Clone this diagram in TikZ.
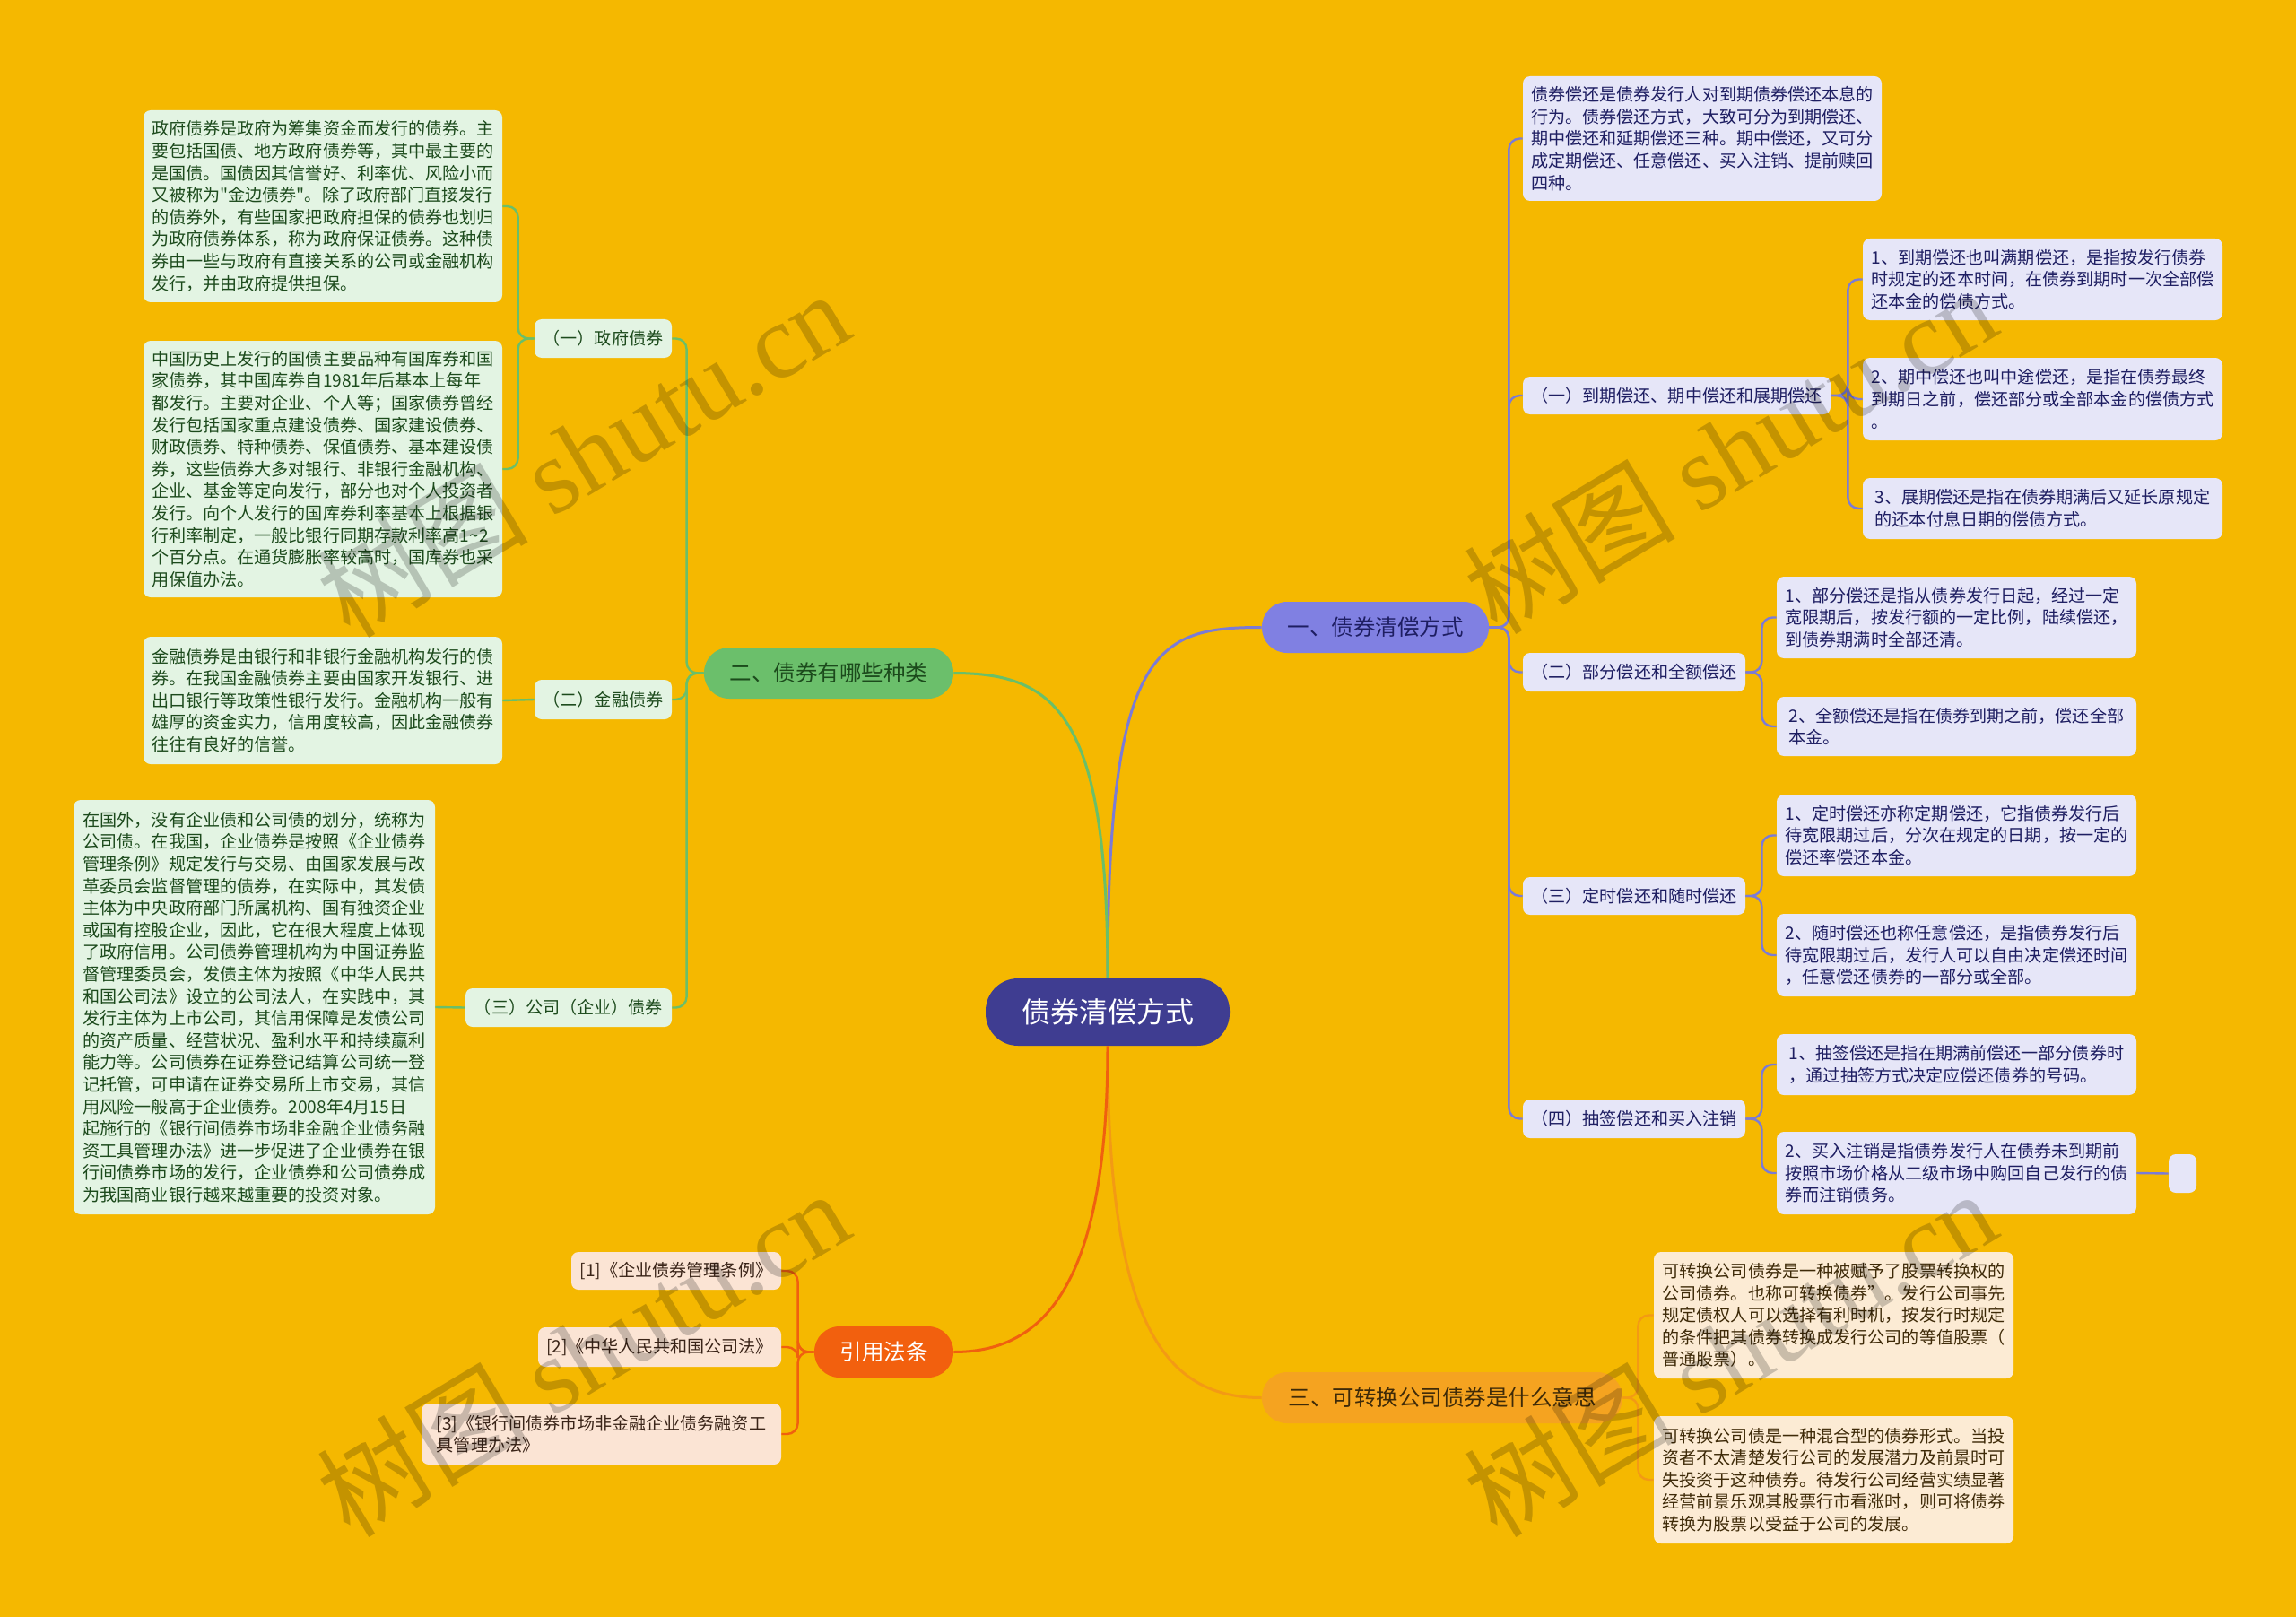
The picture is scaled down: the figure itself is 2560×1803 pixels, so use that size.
\documentclass[tikz,border=0pt]{standalone}
\usepackage{fontspec}
\setmainfont{Noto Sans CJK SC}
\newfontfamily\qfont{Noto Sans CJK SC}
\newfontfamily\wmlatin{Liberation Serif}
\definecolor{bg}{HTML}{F5B800}
\definecolor{cfill}{HTML}{3F3D91}
\definecolor{pfill}{HTML}{8080E2}
\definecolor{pline}{HTML}{7B7BD6}
\definecolor{plight}{HTML}{E6E6F8}
\definecolor{ptext}{HTML}{1E1E62}
\definecolor{gfill}{HTML}{6BBF6B}
\definecolor{gline}{HTML}{6ABF69}
\definecolor{glight}{HTML}{E3F4E3}
\definecolor{gtext}{HTML}{1C4A1C}
\definecolor{ofill}{HTML}{F5A320}
\definecolor{oline}{HTML}{F39A14}
\definecolor{olight}{HTML}{FCEBD4}
\definecolor{otext}{HTML}{3E2A08}
\definecolor{rfill}{HTML}{F2600E}
\definecolor{rline}{HTML}{F0600F}
\definecolor{rlight}{HTML}{FBE4D4}
\definecolor{rtext}{HTML}{3A2418}
\tikzset{
  txt/.style={draw=none, rounded corners=4pt, inner sep=0pt, align=left,
    font=\fontsize{9.55pt}{12.3pt}\selectfont},
  pbox/.style={txt, fill=plight, text=ptext},
  gbox/.style={txt, fill=glight, text=gtext},
  obox/.style={txt, fill=olight, text=otext},
  rbox/.style={txt, fill=rlight, text=rtext},
  lvl/.style={draw=none, inner sep=0pt, rounded corners=14pt, minimum height=28.5pt,
    font=\fontsize{12.25pt}{14pt}\selectfont},
  mainline/.style={line width=1.5pt},
  brk/.style={line width=1.2pt, rounded corners=6pt},
  wm/.style={text=black, opacity=0.2, rotate=31, font=\fontsize{59pt}{66pt}\selectfont}
}
\newcommand{\sq}{{\qfont "}}
\begin{document}
\begin{tikzpicture}[x=0.5pt,y=-0.5pt]
\fill[bg] (0,0) rectangle (2560,1803);
\useasboundingbox (0,0) rectangle (2560,1803);

% center and level 1
\node[draw=none, fill=cfill, text=white, rounded corners=18pt, minimum width=136pt, minimum height=37.5pt, inner sep=0pt, font=\fontsize{16pt}{18pt}\selectfont] (C) at (1235,1128.5) {债券清偿方式};
\node[lvl, fill=pfill, text=ptext, minimum width=126.5pt] (N1) at (1533.5,699.5) {一、债券清偿方式};
\node[lvl, fill=gfill, text=gtext, minimum width=139pt] (N2) at (924,750.5) {二、债券有哪些种类};
\node[lvl, fill=ofill, text=otext, minimum width=201pt] (N3) at (1608,1558.5) {三、可转换公司债券是什么意思};
\node[lvl, fill=rfill, text=white, minimum width=77.5pt] (N4) at (985.5,1507.5) {引用法条};

% purple branch
\node[pbox, minimum width=200pt, minimum height=69.5pt] (R0) at (1898,154.5) {债券偿还是债券发行人对到期债券偿还本息的\\行为。债券偿还方式，大致可分为到期偿还、\\期中偿还和延期偿还三种。期中偿还，又可分\\成定期偿还、任意偿还、买入注销、提前赎回\\四种。};
\node[pbox, align=center, minimum width=171.5pt, minimum height=21pt] (P1) at (1869.5,441) {（一）到期偿还、期中偿还和展期偿还};
\node[pbox, align=center, minimum width=124pt, minimum height=21.5pt] (P2) at (1822,749.5) {（二）部分偿还和全额偿还};
\node[pbox, align=center, minimum width=124pt, minimum height=21pt] (P3) at (1822,999) {（三）定时偿还和随时偿还};
\node[pbox, align=center, minimum width=124pt, minimum height=21.5pt] (P4) at (1822,1247.5) {（四）抽签偿还和买入注销};

\node[pbox, minimum width=200.5pt, minimum height=45.5pt] (R1a) at (2277.5,311.5) {1、到期偿还也叫满期偿还，是指按发行债券\\时规定的还本时间，在债券到期时一次全部偿\\还本金的偿债方式。};
\node[pbox, minimum width=200.5pt, minimum height=46pt] (R1b) at (2277.5,445) {2、期中偿还也叫中途偿还，是指在债券最终\\到期日之前，偿还部分或全部本金的偿债方式\\。};
\node[pbox, minimum width=200.5pt, minimum height=34pt] (R1c) at (2277.5,567) {3、展期偿还是指在债券期满后又延长原规定\\的还本付息日期的偿债方式。};

\node[pbox, minimum width=200.5pt, minimum height=45.5pt] (R2a) at (2181.5,688.5) {1、部分偿还是指从债券发行日起，经过一定\\宽限期后，按发行额的一定比例，陆续偿还，\\到债券期满时全部还清。};
\node[pbox, minimum width=200.5pt, minimum height=33pt] (R2b) at (2181.5,810) {2、全额偿还是指在债券到期之前，偿还全部\\本金。};

\node[pbox, minimum width=200.5pt, minimum height=45.5pt] (R3a) at (2181.5,931.5) {1、定时偿还亦称定期偿还，它指债券发行后\\待宽限期过后，分次在规定的日期，按一定的\\偿还率偿还本金。};
\node[pbox, minimum width=200.5pt, minimum height=46pt] (R3b) at (2181.5,1065) {2、随时偿还也称任意偿还，是指债券发行后\\待宽限期过后，发行人可以自由决定偿还时间\\，任意偿还债券的一部分或全部。};

\node[pbox, minimum width=200.5pt, minimum height=34pt] (R4a) at (2181.5,1187) {1、抽签偿还是指在期满前偿还一部分债券时\\，通过抽签方式决定应偿还债券的号码。};
\node[pbox, minimum width=200.5pt, minimum height=46pt] (R4b) at (2181.5,1308) {2、买入注销是指债券发行人在债券未到期前\\按照市场价格从二级市场中购回自己发行的债\\券而注销债务。};
\node[pbox, minimum width=15.5pt, minimum height=21.5pt] (R4c) at (2433.5,1308.5) {};

% green branch
\node[gbox, align=center, minimum width=76.5pt, minimum height=21.5pt] (G1) at (672.5,377.5) {（一）政府债券};
\node[gbox, align=center, minimum width=76.5pt, minimum height=22pt] (G2) at (672.5,780) {（二）金融债券};
\node[gbox, align=center, minimum width=115pt, minimum height=21.5pt] (G3) at (634,1123.5) {（三）公司（企业）债券};

\node[gbox, minimum width=200pt, minimum height=107pt] (L1) at (360,230) {政府债券是政府为筹集资金而发行的债券。主\\要包括国债、地方政府债券等，其中最主要的\\是国债。国债因其信誉好、利率优、风险小而\\又被称为\sq 金边债券\sq 。除了政府部门直接发行\\的债券外，有些国家把政府担保的债券也划归\\为政府债券体系，称为政府保证债券。这种债\\券由一些与政府有直接关系的公司或金融机构\\发行，并由政府提供担保。};
\node[gbox, minimum width=200pt, minimum height=143pt] (L2) at (360,523) {中国历史上发行的国债主要品种有国库券和国\\家债券，其中国库券自1981年后基本上每年\\都发行。主要对企业、个人等；国家债券曾经\\发行包括国家重点建设债券、国家建设债券、\\财政债券、特种债券、保值债券、基本建设债\\券，这些债券大多对银行、非银行金融机构、\\企业、基金等定向发行，部分也对个人投资者\\发行。向个人发行的国库券利率基本上根据银\\行利率制定，一般比银行同期存款利率高1\textasciitilde2\\个百分点。在通货膨胀率较高时，国库券也采\\用保值办法。};
\node[gbox, minimum width=200pt, minimum height=71pt] (L3) at (360,781) {金融债券是由银行和非银行金融机构发行的债\\券。在我国金融债券主要由国家开发银行、进\\出口银行等政策性银行发行。金融机构一般有\\雄厚的资金实力，信用度较高，因此金融债券\\往往有良好的信誉。};
\node[gbox, minimum width=201.5pt, minimum height=231pt] (L4) at (283.5,1123) {在国外，没有企业债和公司债的划分，统称为\\公司债。在我国，企业债券是按照《企业债券\\管理条例》规定发行与交易、由国家发展与改\\革委员会监督管理的债券，在实际中，其发债\\主体为中央政府部门所属机构、国有独资企业\\或国有控股企业，因此，它在很大程度上体现\\了政府信用。公司债券管理机构为中国证券监\\督管理委员会，发债主体为按照《中华人民共\\和国公司法》设立的公司法人，在实践中，其\\发行主体为上市公司，其信用保障是发债公司\\的资产质量、经营状况、盈利水平和持续赢利\\能力等。公司债券在证券登记结算公司统一登\\记托管，可申请在证券交易所上市交易，其信\\用风险一般高于企业债券。2008年4月15日\\起施行的《银行间债券市场非金融企业债务融\\资工具管理办法》进一步促进了企业债券在银\\行间债券市场的发行，企业债券和公司债券成\\为我国商业银行越来越重要的投资对象。};

% orange branch
\node[obox, minimum width=200.5pt, minimum height=70.5pt] (B1) at (2044.5,1466.5) {可转换公司债券是一种被赋予了股票转换权的\\公司债券。也称可转换债券”。发行公司事先\\规定债权人可以选择有利时机，按发行时规定\\的条件把其债券转换成发行公司的等值股票（\\普通股票）。};
\node[obox, minimum width=200.5pt, minimum height=71pt] (B2) at (2044.5,1650) {可转换公司债是一种混合型的债券形式。当投\\资者不太清楚发行公司的发展潜力及前景时可\\失投资于这种债券。待发行公司经营实绩显著\\经营前景乐观其股票行市看涨时，则可将债券\\转换为股票以受益于公司的发展。};

% reference branch
\node[rbox, align=center, minimum width=117pt, minimum height=21pt] (F1) at (754,1417) {[1]《企业债券管理条例》};
\node[rbox, align=center, minimum width=135.5pt, minimum height=22pt] (F2) at (735.5,1502) {[2]《中华人民共和国公司法》};
\node[rbox, minimum width=200.5pt, minimum height=34pt] (F3) at (670.5,1599) {[3]《银行间债券市场非金融企业债务融资工\\具管理办法》};

% main connectors
\draw[mainline, pline] (C.north) .. controls (1235,720) and (1290,699.5) .. (N1.west);
\draw[mainline, gline] (C.north) .. controls (1235,800) and (1180,750.5) .. (N2.east);
\draw[mainline, oline] (C.south) .. controls (1235,1480) and (1300,1558.5) .. (N3.west);
\draw[mainline, rline] (C.south) .. controls (1235,1440) and (1160,1507.5) .. (N4.east);

% purple brackets
\foreach \t in {R0,P1,P2,P3,P4}
  \draw[brk, pline] (N1.east) -- ++(22,0) |- (\t.west);
\foreach \t in {R1a,R1b,R1c}
  \draw[brk, pline] (P1.east) -- ++(19,0) |- (\t.west);
\foreach \t in {R2a,R2b}
  \draw[brk, pline] (P2.east) -- ++(18,0) |- (\t.west);
\foreach \t in {R3a,R3b}
  \draw[brk, pline] (P3.east) -- ++(18,0) |- (\t.west);
\foreach \t in {R4a,R4b}
  \draw[brk, pline] (P4.east) -- ++(18,0) |- (\t.west);
\draw[brk, pline] (R4b.east) -- (R4c.west);

% green brackets
\foreach \t in {G1,G2,G3}
  \draw[brk, gline] (N2.west) -- ++(-19,0) |- (\t.east);
\foreach \t in {L1,L2}
  \draw[brk, gline] (G1.west) -- ++(-18,0) |- (\t.east);
\draw[brk, gline] (G2.west) -- (L3.east);
\draw[brk, gline] (G3.west) -- (L4.east);

% orange brackets
\foreach \t in {B1,B2}
  \draw[brk, oline] (N3.east) -- ++(17,0) |- (\t.west);

% red brackets
\foreach \t in {F1,F2,F3}
  \draw[brk, rline] (N4.west) -- ++(-18,0) |- (\t.east);

% watermarks
\node[wm] (W1) at (650,505) {树图 {\wmlatin shutu.cn}};
\node[wm] (W2) at (1929,501) {树图 {\wmlatin shutu.cn}};
\node[wm] (W3) at (650,1508) {树图 {\wmlatin shutu.cn}};
\node[wm] (W4) at (1929,1508) {树图 {\wmlatin shutu.cn}};
\end{tikzpicture}
\end{document}
